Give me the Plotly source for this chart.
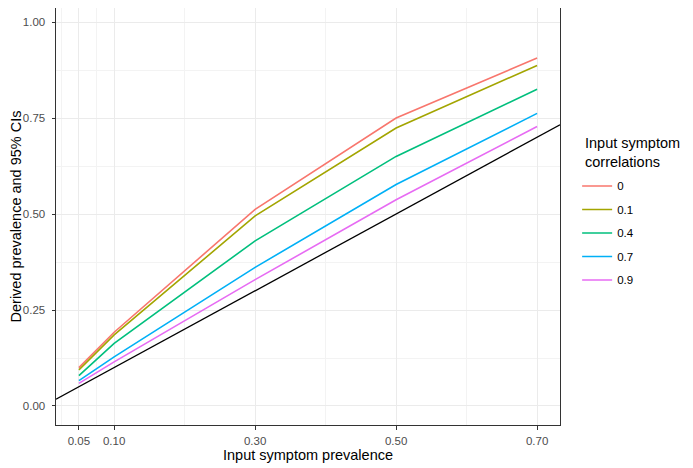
import plotly.graph_objects as go

prevalence = [0.05, 0.10, 0.30, 0.50, 0.70]
correlations = ["0", "0.1", "0.4", "0.7", "0.9"]
derived_r0 = [0.100, 0.192, 0.512, 0.750, 0.906]
derived_r01 = [0.094, 0.185, 0.495, 0.724, 0.887]
derived_r04 = [0.079, 0.163, 0.430, 0.650, 0.825]
derived_r07 = [0.066, 0.128, 0.361, 0.577, 0.762]
derived_r09 = [0.059, 0.115, 0.329, 0.537, 0.728]
series = [derived_r0, derived_r01, derived_r04, derived_r07, derived_r09]
colors = ["#F8766D", "#A3A500", "#00BF7D", "#00B0F6", "#E76BF3"]
legend_title = "Input symptom<br>correlations"

x_ticks = [0.05, 0.10, 0.30, 0.50, 0.70]
x_tick_text = ["0.05", "0.10", "0.30", "0.50", "0.70"]
x_minor = [0.025, 0.075, 0.2, 0.4, 0.6]
y_ticks = [0.0, 0.25, 0.5, 0.75, 1.0]
y_tick_text = ["0.00", "0.25", "0.50", "0.75", "1.00"]
y_minor = [0.125, 0.375, 0.625, 0.875]

xspan = max(prevalence) - min(prevalence)
x_range = [min(prevalence) - 0.05 * xspan, max(prevalence) + 0.05 * xspan]
y_range = [-0.0495, 1.0365]

FONT = "Liberation Sans, Arial, sans-serif"

fig = go.Figure()
for name, vals, col in zip(correlations, series, colors):
    fig.add_trace(go.Scatter(
        x=prevalence, y=vals, mode="lines", name=name,
        legendgroup=name,
        line=dict(color=col, width=1.6),
    ))

# identity reference line y = x across the panel
fig.add_trace(go.Scatter(
    x=x_range, y=x_range, mode="lines", showlegend=False,
    line=dict(color="black", width=1.3), hoverinfo="skip",
))

axis_common = dict(
    showline=True, mirror=True, linecolor="#333333", linewidth=1,
    ticks="outside", ticklen=3.5, tickcolor="#333333", tickwidth=1,
    showgrid=True, gridcolor="#EBEBEB", gridwidth=1,
    zeroline=False,
    tickfont=dict(family=FONT, size=11.5, color="#4D4D4D"),
)

fig.add_annotation(
    text=legend_title, xref="paper", yref="paper",
    x=1.0476, y=0.699, xanchor="left", yanchor="top",
    align="left", showarrow=False, borderpad=0,
    font=dict(family=FONT, size=14.5, color="black"),
)

fig.update_layout(
    width=693, height=468,
    paper_bgcolor="white", plot_bgcolor="white",
    margin=dict(l=48, r=141, t=0, b=51),
    font=dict(family=FONT, color="black"),
    xaxis=dict(
        **axis_common, range=x_range,
        tickmode="array", tickvals=x_ticks, ticktext=x_tick_text,
        ticklabelstandoff=2,
        minor=dict(tickmode="array", tickvals=x_minor, showgrid=True,
                   gridcolor="#F3F3F3", gridwidth=0.6, ticks=""),
        title=dict(text="Input symptom prevalence", font=dict(family=FONT, size=14.5), standoff=3),
    ),
    yaxis=dict(
        **axis_common, range=y_range,
        tickmode="array", tickvals=y_ticks, ticktext=y_tick_text,
        ticklabelstandoff=4,
        minor=dict(tickmode="array", tickvals=y_minor, showgrid=True,
                   gridcolor="#F3F3F3", gridwidth=0.6, ticks=""),
        title=dict(text="Derived prevalence and 95% CIs", font=dict(family=FONT, size=14.5), standoff=0),
    ),
    legend=dict(
        x=1.034, xanchor="left", y=0.608, yanchor="top",
        font=dict(family=FONT, size=11.5),
        tracegroupgap=4.5,
        itemwidth=30,
        bgcolor="rgba(0,0,0,0)",
    ),
    showlegend=True,
)

fig.write_html("out.html")
